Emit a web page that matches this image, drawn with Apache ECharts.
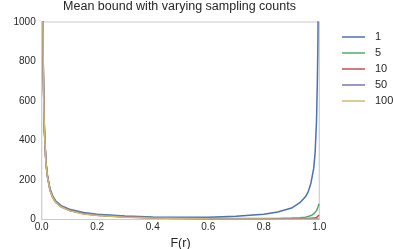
<!DOCTYPE html>
<html><head><meta charset="utf-8">
<script src="https://cdn.jsdelivr.net/npm/echarts@6/dist/echarts.min.js"></script>
<style>html,body{margin:0;padding:0;background:#fff}#c{width:393px;height:249px}</style>
</head><body><div id="c"></div>
<script>
const titleText = 'Mean bound with varying sampling counts';
const seriesNames = ['1', '5', '10', '50', '100'];
const colors = ['#4C72B0', '#55A868', '#C44E52', '#8172B2', '#CCB974'];
const xTicks = [0.0, 0.2, 0.4, 0.6, 0.8, 1.0];
const yTicks = [0, 200, 400, 600, 800, 1000];

const F = [0.002, 0.003, 0.004, 0.005, 0.006, 0.008, 0.01, 0.015, 0.02, 0.03, 0.04, 0.05, 0.07, 0.1, 0.15, 0.2, 0.3, 0.4, 0.5, 0.6, 0.7, 0.8, 0.85, 0.9, 0.93, 0.95, 0.96, 0.97, 0.98, 0.985, 0.99, 0.993, 0.995, 0.997, 0.999];
const bound1   = [2200, 1500, 1120, 900, 750, 560, 450, 300, 230, 155, 118, 95, 70, 52, 35, 26, 18, 13, 11, 12, 16, 27, 38, 58, 85, 115, 140, 185, 260, 340, 500, 700, 900, 1300, 3000];
const bound5   = [2200, 1500, 1110, 890, 740, 555, 445, 295, 225, 150, 113, 90, 66, 48, 31, 23, 15, 10, 7, 6, 5, 5, 5.5, 7, 9, 12, 15, 20, 28, 35, 45, 55, 62, 70, 80];
const bound10  = [2200, 1500, 1110, 890, 740, 555, 445, 295, 224, 149, 112, 89, 65, 47, 30, 22, 14, 9, 6.5, 5, 4, 3.5, 3.5, 3.5, 4, 4.5, 5, 6, 7, 8, 10, 12, 14, 17, 22];
const bound50  = [2200, 1500, 1100, 885, 735, 550, 440, 292, 222, 147, 110, 88, 64, 46, 29, 21, 13, 8, 5.5, 4, 3, 2.5, 2.2, 2, 2, 2, 2, 2.2, 2.5, 2.8, 3, 3.5, 4, 5, 6];
const bound100 = [2200, 1500, 1100, 885, 735, 550, 440, 292, 222, 146, 109, 87, 63, 45, 28, 20, 12, 7, 5, 3.5, 2.5, 2, 1.8, 1.5, 1.3, 1.2, 1.2, 1.2, 1.2, 1.3, 1.4, 1.5, 1.6, 1.8, 2];
const allBounds = [bound1, bound5, bound10, bound50, bound100];

const chart = echarts.init(document.getElementById('c'), null, {renderer: 'canvas'});
const font = 'Liberation Sans, Arial, sans-serif';
chart.setOption({
  animation: false,
  color: colors,
  title: {
    text: titleText, left: 179.5, top: 0, padding: 0, textAlign: 'center',
    textStyle: {fontFamily: font, fontSize: 12.5, fontWeight: 'normal', color: '#262626'}
  },
  legend: {
    orient: 'vertical', left: 342, top: 30, padding: 0,
    itemWidth: 23, itemHeight: 1.5, itemGap: 2, icon: 'rect',
    data: seriesNames,
    textStyle: {fontFamily: font, fontSize: 11, color: '#262626', lineHeight: 14, padding: [0, 0, 0, 5]}
  },
  grid: {left: 41.7, right: 393 - 319.3, top: 22, bottom: 249 - 219.5, show: true, borderColor: '#cccccc', borderWidth: 1.2, containLabel: false, outerBoundsMode: 'none'},
  xAxis: {
    type: 'value', min: 0, max: 1, interval: 0.2,
    name: 'F(r)', nameLocation: 'middle', nameGap: 14,
    nameTextStyle: {fontFamily: font, fontSize: 12.5, color: '#262626'},
    axisLine: {show: false}, axisTick: {show: false}, splitLine: {show: false},
    axisLabel: {fontFamily: font, fontSize: 10, color: '#262626', margin: 3,
      formatter: v => { const t = xTicks.find(a => Math.abs(a - v) < 1e-9); return t === undefined ? '' : t.toFixed(1); }}
  },
  yAxis: {
    type: 'value', min: 0, max: 1000, interval: 200,
    name: 'Bound', nameLocation: 'middle', nameGap: 35,
    nameTextStyle: {fontFamily: font, fontSize: 12.5, color: '#262626'},
    axisLine: {show: false}, axisTick: {show: false}, splitLine: {show: false},
    axisLabel: {fontFamily: font, fontSize: 10, color: '#262626', margin: 6,
      formatter: v => yTicks.includes(v) ? String(v) : ''}
  },
  series: seriesNames.map((n, i) => ({
    name: n, type: 'line', showSymbol: false, symbol: 'none', clip: true,
    lineStyle: {width: 1.5, color: colors[i]},
    itemStyle: {color: colors[i]},
    data: F.map((x, j) => [x, allBounds[i][j]])
  }))
});
</script></body></html>
